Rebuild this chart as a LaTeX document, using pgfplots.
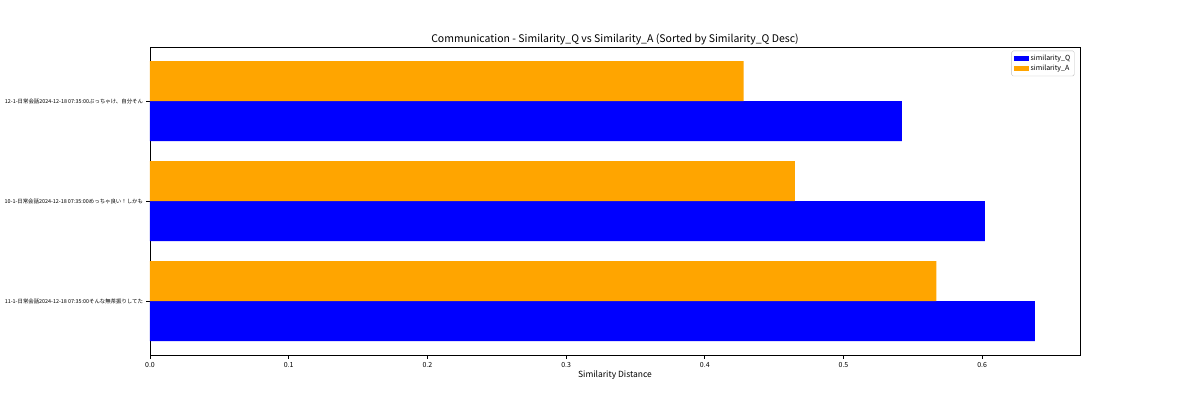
\documentclass[border=0pt]{standalone}
\usepackage{fontspec}
\setmainfont{Noto Sans CJK JP}
\usepackage{pgfplots}
\pgfplotsset{compat=1.18}
\definecolor{qblue}{RGB}{0,0,255}
\definecolor{aorange}{RGB}{255,165,0}
\begin{document}
\begin{tikzpicture}[x=1pt,y=1pt]
\path[use as bounding box] (0,0) rectangle (1200,400);
\begin{axis}[
  at={(150pt,45pt)}, anchor=south west,
  scale only axis, width=930pt, height=308pt,
  xmin=0, xmax=0.6705, ymin=-0.54, ymax=2.54,
  xtick={0,0.1,0.2,0.3,0.4,0.5,0.6},
  xticklabel style={/pgf/number format/fixed,/pgf/number format/fixed zerofill,/pgf/number format/precision=1,font=\fontsize{7}{8}\selectfont},
  /pgf/number format/assume math mode=true,
  ytick={0,1,2},
  yticklabels={11-1-日常会話2024-12-18 07:35:00そんな無茶振りしてた,10-1-日常会話2024-12-18 07:35:00めっちゃ良い！しかも,12-1-日常会話2024-12-18 07:35:00ぶっちゃけ、自分そん},
  yticklabel style={font=\fontsize{5.4}{6}\selectfont},
  tick align=outside, major tick length=3.5pt,
  xtick pos=bottom, ytick pos=left,
  axis line style={line width=0.8pt},
  tick style={line width=0.8pt, black},
  title={Communication - Similarity\_Q vs Similarity\_A (Sorted by Similarity\_Q Desc)},
  title style={font=\fontsize{10.5}{12}\selectfont, yshift=-7pt},
  xlabel={Similarity Distance},
  xlabel style={font=\fontsize{8.5}{10}\selectfont, yshift=3pt},
  legend style={at={(rel axis cs:0.994,0.988)}, anchor=north east, font=\fontsize{7}{8}\selectfont, draw=black!25, rounded corners=1.5pt, row sep=-1pt, inner sep=2pt},
  legend cell align=left,
  legend image code/.code={\fill[#1, sharp corners] (0pt,-2.5pt) rectangle (15pt,2.5pt);},
]
\addplot[xbar, bar width=40pt, bar shift=-20pt, fill=qblue, draw=none] coordinates {(0.638,0) (0.602,1) (0.542,2)};
\addlegendentry{similarity\_Q}
\addplot[xbar, bar width=40pt, bar shift=20pt, fill=aorange, draw=none] coordinates {(0.567,0) (0.465,1) (0.428,2)};
\addlegendentry{similarity\_A}
\end{axis}
\end{tikzpicture}
\end{document}
